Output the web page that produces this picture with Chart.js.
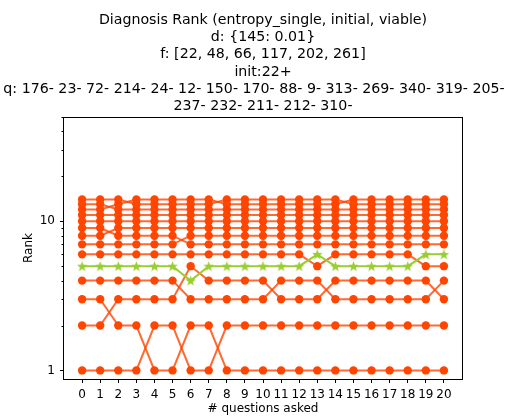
<!DOCTYPE html>
<html>
<head>
<meta charset="utf-8">
<script src="https://cdn.jsdelivr.net/npm/chart.js@4.4.1/dist/chart.umd.min.js"></script>
<style>
  html, body { margin: 0; padding: 0; background: #fff; }
  canvas { display: block; }
</style>
</head>
<body>
<canvas id="rankChart" width="518" height="418"></canvas>
<script>
const titleLines = [
  'Diagnosis Rank (entropy_single, initial, viable)',
  'd: {145: 0.01}',
  'f: [22, 48, 66, 117, 202, 261]',
  'init:22+',
  'q: 176- 23- 72- 214- 24- 12- 150- 170- 88- 9- 313- 269- 340- 319- 205-    ',
  '237- 232- 211- 212- 310-'
];

// x axis: number of questions asked so far
const questionsAsked = [0, 1, 2, 3, 4, 5, 6, 7, 8, 9, 10, 11, 12, 13, 14, 15, 16, 17, 18, 19, 20];

// y axis (log) tick positions, only some of them get a label
const rankTicks = [1, 2, 3, 4, 5, 6, 7, 8, 9, 10, 20, 30, 40, 50];
const labelledRanks = [1, 10];

// rank of each candidate diagnosis after every question
const rankA = [1, 1, 1, 1, 2, 2, 1, 1, 2, 2, 2, 2, 2, 2, 2, 2, 2, 2, 2, 2, 2];
const rankB = [2, 2, 3, 3, 3, 3, 5, 4, 4, 4, 4, 3, 3, 3, 4, 4, 4, 4, 4, 4, 3];
const rankC = [3, 3, 2, 2, 1, 1, 2, 2, 1, 1, 1, 1, 1, 1, 1, 1, 1, 1, 1, 1, 1];
const rankD = [4, 4, 4, 4, 4, 4, 3, 3, 3, 3, 3, 4, 4, 4, 3, 3, 3, 3, 3, 3, 4];
const rankF = [6, 6, 6, 6, 6, 6, 6, 6, 6, 6, 6, 6, 6, 5, 6, 6, 6, 6, 6, 5, 5];
const rankG = [7, 7, 7, 7, 7, 7, 8, 8, 8, 8, 8, 8, 8, 8, 8, 8, 8, 8, 8, 8, 8];
const rankH = [8, 8, 9, 9, 9, 9, 9, 9, 9, 9, 9, 9, 9, 9, 9, 9, 9, 9, 9, 9, 9];
const rankI = [9, 9, 8, 8, 8, 8, 7, 7, 7, 7, 7, 7, 7, 7, 7, 7, 7, 7, 7, 7, 7];
const rankJ = [10, 10, 10, 10, 10, 10, 10, 10, 10, 10, 10, 10, 10, 10, 10, 10, 10, 10, 10, 10, 10];
const rankK = [11, 11, 11, 11, 11, 11, 11, 11, 11, 11, 11, 11, 11, 11, 11, 11, 11, 11, 11, 11, 11];
const rankL = [12, 12, 13, 14, 14, 14, 14, 14, 13, 13, 13, 13, 13, 13, 13, 14, 14, 14, 14, 14, 14];
const rankM = [13, 13, 12, 12, 12, 12, 12, 12, 12, 12, 12, 12, 12, 12, 12, 12, 12, 12, 12, 12, 12];
const rankN = [14, 14, 14, 13, 13, 13, 13, 13, 14, 14, 14, 14, 14, 14, 14, 13, 13, 13, 13, 13, 13];

// the true fault, drawn in green with stars
const trueFaultRank = [5, 5, 5, 5, 5, 5, 4, 5, 5, 5, 5, 5, 5, 6, 5, 5, 5, 5, 5, 6, 6];

const otherRanks = [rankA, rankB, rankC, rankD, rankF, rankG, rankH, rankI, rankJ, rankK, rankL, rankM, rankN];

const ORANGE = '#ff4500';
const ORANGE_LINE = 'rgba(255, 69, 0, 0.8)';
const GREEN = '#9acd32';
const FONT = '"DejaVu Sans", sans-serif';

function starMarker(size, color) {
  const c = document.createElement('canvas');
  c.width = c.height = size;
  const g = c.getContext('2d');
  const r = size / 2;
  const inner = r * 0.42;
  g.beginPath();
  for (let i = 0; i < 10; i++) {
    const rad = i % 2 ? inner : r;
    const ang = -Math.PI / 2 + i * Math.PI / 5;
    g.lineTo(r + rad * Math.cos(ang), r * 1.08 + rad * Math.sin(ang));
  }
  g.closePath();
  g.fillStyle = color;
  g.fill();
  return c;
}

const toPoints = ranks => questionsAsked.map((q, i) => ({ x: q, y: ranks[i] }));

const datasets = otherRanks.map(ranks => ({
  data: toPoints(ranks),
  borderColor: ORANGE_LINE,
  borderWidth: 2,
  pointRadius: 4.2,
  pointBackgroundColor: ORANGE,
  pointBorderWidth: 0,
  tension: 0,
  order: 1
}));

datasets.push({
  data: toPoints(trueFaultRank),
  borderColor: GREEN,
  borderWidth: 2,
  pointStyle: starMarker(11, GREEN),
  pointRadius: 5,
  tension: 0,
  order: 0
});

// black box round the plot area, short minor ticks on the log axis, multi-line title
const frameAndTitle = {
  id: 'frameAndTitle',
  afterDraw(chart) {
    const { ctx, chartArea: a } = chart;
    const y = chart.scales.y;
    ctx.save();
    ctx.strokeStyle = '#000';
    ctx.lineWidth = 1;
    ctx.strokeRect(Math.round(a.left) - 0.5, Math.round(a.top) + 0.5,
                   Math.round(a.right - a.left) + 1, Math.round(a.bottom - a.top));
    ctx.beginPath();
    rankTicks.filter(v => !labelledRanks.includes(v)).forEach(v => {
      const py = Math.round(y.getPixelForValue(v)) + 0.5;
      ctx.moveTo(a.left - 2.5, py);
      ctx.lineTo(a.left, py);
    });
    ctx.stroke();
    ctx.fillStyle = '#000';
    ctx.font = '14.2px ' + FONT;
    ctx.textAlign = 'center';
    ctx.textBaseline = 'alphabetic';
    const cx = (a.left + a.right) / 2;
    titleLines.forEach((line, i) => ctx.fillText(line, cx, 24 + i * 17.2));
    ctx.restore();
  }
};

new Chart(document.getElementById('rankChart'), {
  type: 'line',
  data: { datasets },
  plugins: [frameAndTitle],
  options: {
    responsive: false,
    animation: false,
    events: [],
    layout: { padding: { top: 117, right: 56, left: 0, bottom: 0 } },
    plugins: { legend: { display: false }, tooltip: { enabled: false }, title: { display: false } },
    scales: {
      x: {
        type: 'linear',
        min: -1,
        max: 21,
        bounds: 'data',
        afterBuildTicks: scale => { scale.ticks = questionsAsked.map(v => ({ value: v })); },
        afterFit: scale => { scale.height = 39; },
        ticks: { color: '#000', font: { family: FONT, size: 12 }, padding: 5, maxRotation: 0, autoSkip: false },
        grid: { drawOnChartArea: false, drawTicks: true, tickLength: 4, color: '#000' },
        border: { display: false },
        title: { display: true, text: '# questions asked', color: '#000', font: { family: FONT, size: 12 }, padding: { top: 0, bottom: 2 } }
      },
      y: {
        type: 'logarithmic',
        min: 0.876,
        max: 50,
        bounds: 'data',
        afterBuildTicks: scale => {
          scale.ticks = rankTicks.map(v => ({ value: v, major: labelledRanks.includes(v) }));
        },
        afterFit: scale => { scale.width = 64; },
        ticks: {
          color: '#000',
          font: { family: FONT, size: 12 },
          padding: 5,
          autoSkip: false,
          callback: v => labelledRanks.includes(v) ? String(v) : ''
        },
        grid: {
          drawOnChartArea: false,
          drawTicks: true,
          tickLength: 4,
          color: '#000',
          tickColor: c => (c.tick && labelledRanks.includes(c.tick.value)) ? '#000' : 'rgba(0,0,0,0)'
        },
        border: { display: false },
        title: { display: true, text: 'Rank', color: '#000', font: { family: FONT, size: 12 }, padding: { top: 22, bottom: 0 } }
      }
    }
  }
});
</script>
</body>
</html>
